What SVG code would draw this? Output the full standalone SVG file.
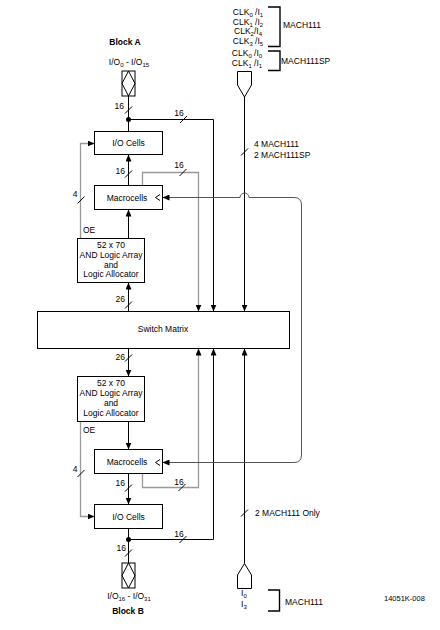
<svg xmlns="http://www.w3.org/2000/svg" width="440" height="630" viewBox="0 0 440 630">
<style>
text{font-family:"Liberation Sans",Arial,sans-serif;font-size:8.5px;fill:#000}
.b{font-weight:bold}
.m{text-anchor:middle}
.e{text-anchor:end}
.box{fill:#fff;stroke:#000;stroke-width:1}
.k{fill:none;stroke:#000;stroke-width:1}
.g{fill:none;stroke:#999;stroke-width:1.3}
.lp{fill:none;stroke:#555;stroke-width:1}
.sl{stroke:#000;stroke-width:1}
.br{fill:none;stroke:#000;stroke-width:1.4}
.s{font-size:6px}
</style>
<defs>
<marker id="ah" markerWidth="7" markerHeight="6" refX="6.5" refY="3" orient="auto" markerUnits="userSpaceOnUse">
<path d="M0,0 L7,3 L0,6 Z" fill="#000"/>
</marker>
</defs>

<g id="connectors">
<!-- Block A main column -->
<path class="k" d="M128.5 96 V131.5"/>
<path class="k" d="M128.5 119.5 H213.5 V311" marker-end="url(#ah)"/>
<path class="k" d="M128.5 185.5 V155" marker-end="url(#ah)"/>
<path class="k" d="M128.5 238.5 V210" marker-end="url(#ah)"/>
<path class="k" d="M128.5 311.5 V283" marker-end="url(#ah)"/>
<path class="g" d="M80.5 238.5 V143.5 H94" marker-end="url(#ah)"/>
<path class="g" d="M142.5 185.5 V172.5 H198.5 V311" marker-end="url(#ah)"/>
<!-- Block B main column -->
<path class="k" d="M128.5 348.5 V376" marker-end="url(#ah)"/>
<path class="k" d="M128.5 421.5 V449" marker-end="url(#ah)"/>
<path class="k" d="M128.5 473.5 V504" marker-end="url(#ah)"/>
<path class="k" d="M128.5 528.5 V563"/>
<path class="k" d="M128.5 539.5 H213.5 V349" marker-end="url(#ah)"/>
<path class="g" d="M80.5 421.5 V516.5 H94" marker-end="url(#ah)"/>
<path class="g" d="M142.5 473.5 V487.5 H198.5 V349" marker-end="url(#ah)"/>
<!-- clock lines -->
<path class="k" d="M244.5 97 V311" marker-end="url(#ah)"/>
<path class="k" d="M244.5 563.5 V349" marker-end="url(#ah)"/>
<!-- clock loop -->
<path class="lp" d="M301.5 330 V205 Q301.5 197.5 294 197.5 H249 A4.5 4.5 0 0 0 240 197.5 H163" marker-end="url(#ah)"/>
<path class="lp" d="M301.5 330 V455 Q301.5 462.5 294 462.5 H163" marker-end="url(#ah)"/>
<circle cx="128.5" cy="119.5" r="2.5" fill="#000"/>
<circle cx="128.5" cy="539.5" r="2.5" fill="#000"/>
<!-- bus slashes -->
<path class="sl" d="M125 113.5 L132 106.5 M180 123 L187 116 M125 177.5 L132 170.5 M179.5 176 L186.5 169 M77.5 203.5 L84.5 196.5 M125 308.5 L132 301.5 M125 361.5 L132 354.5 M77.5 477 L84.5 470 M125 491.5 L132 484.5 M178.5 491 L185.5 484 M179.5 543 L186.5 536 M125 556.5 L132 549.5 M241 155.5 L248 148.5 M241 516.5 L248 509.5"/>
</g>

<g id="labels">
<text x="124" y="109" class="e">16</text>
<text x="179" y="116" class="m">16</text>
<text x="125" y="173.5" class="e">16</text>
<text x="179" y="168" class="m">16</text>
<text x="75" y="197" class="m">4</text>
<text x="83" y="233">OE</text>
<text x="125" y="302" class="e">26</text>
<text x="125" y="359.5" class="e">26</text>
<text x="83" y="433">OE</text>
<text x="75" y="472" class="m">4</text>
<text x="125" y="486" class="e">16</text>
<text x="179" y="484.5" class="m">16</text>
<text x="179" y="537" class="m">16</text>
<text x="126" y="551" class="e">16</text>
<text x="254" y="146.5">4 MACH111</text>
<text x="254" y="158">2 MACH111SP</text>
<text x="255" y="516">2 MACH111 Only</text>
</g>

<g id="pin-a">
<text x="125" y="44.5" class="m b">Block A</text>
<text x="129" y="64.5" class="m">I/O<tspan class="s" dy="2">0</tspan><tspan dy="-2"> - I/O</tspan><tspan class="s" dy="2">15</tspan></text>
<rect x="122" y="71" width="13" height="25" class="k"/>
<path class="k" d="M128.5 71 L122 83.5 L128.5 96 L135 83.5 Z"/>
</g>

<g id="io-cells-a">
<rect x="94.5" y="131.5" width="68" height="23" class="box"/>
<text x="128.5" y="146" class="m">I/O Cells</text>
</g>

<g id="macrocells-a">
<rect x="94.5" y="185.5" width="68" height="24" class="box"/>
<text x="127" y="200.5" class="m">Macrocells</text>
<path class="k" d="M160 194.5 L155.5 197.5 L160 200.5"/>
</g>

<g id="and-array-a">
<rect x="77.5" y="238.5" width="67" height="44" class="box"/>
<text x="111" y="248" class="m">52 x 70</text>
<text x="111" y="258" class="m">AND Logic Array</text>
<text x="111" y="267.5" class="m">and</text>
<text x="111" y="277" class="m">Logic Allocator</text>
</g>

<g id="switch-matrix">
<rect x="37.5" y="311.5" width="252" height="37" class="box"/>
<text x="163" y="332" class="m">Switch Matrix</text>
</g>

<g id="and-array-b">
<rect x="77.5" y="376.5" width="67" height="45" class="box"/>
<text x="111" y="386" class="m">52 x 70</text>
<text x="111" y="396" class="m">AND Logic Array</text>
<text x="111" y="406" class="m">and</text>
<text x="111" y="416" class="m">Logic Allocator</text>
</g>

<g id="macrocells-b">
<rect x="94.5" y="449.5" width="68" height="24" class="box"/>
<text x="127" y="465" class="m">Macrocells</text>
<path class="k" d="M160 459.5 L155.5 462.5 L160 465.5"/>
</g>

<g id="io-cells-b">
<rect x="94.5" y="504.5" width="68" height="24" class="box"/>
<text x="128.5" y="519.5" class="m">I/O Cells</text>
</g>

<g id="pin-b">
<rect x="122" y="563" width="13" height="25" class="k"/>
<path class="k" d="M128.5 563 L122 575.5 L128.5 588 L135 575.5 Z"/>
<text x="129" y="598.5" class="m">I/O<tspan class="s" dy="2">16</tspan><tspan dy="-2"> - I/O</tspan><tspan class="s" dy="2">31</tspan></text>
<text x="128" y="614" class="m b">Block B</text>
</g>

<g id="clock-in-top">
<text x="248" y="15" class="m">CLK<tspan class="s" dy="2">0</tspan><tspan dy="-2"> /I</tspan><tspan class="s" dy="2">1</tspan></text>
<text x="248" y="24.5" class="m">CLK<tspan class="s" dy="2">1</tspan><tspan dy="-2"> /I</tspan><tspan class="s" dy="2">2</tspan></text>
<text x="248" y="34" class="m">CLK<tspan class="s" dy="2">2</tspan><tspan dy="-2">/I</tspan><tspan class="s" dy="2">4</tspan></text>
<text x="248" y="43.5" class="m">CLK<tspan class="s" dy="2">3</tspan><tspan dy="-2"> /I</tspan><tspan class="s" dy="2">5</tspan></text>
<path class="br" d="M268 7 H280 V46.5 H268"/>
<text x="283" y="28">MACH111</text>
<text x="247" y="56" class="m">CLK<tspan class="s" dy="2">0</tspan><tspan dy="-2"> /I</tspan><tspan class="s" dy="2">0</tspan></text>
<text x="247" y="65.5" class="m">CLK<tspan class="s" dy="2">1</tspan><tspan dy="-2"> /I</tspan><tspan class="s" dy="2">1</tspan></text>
<path class="br" d="M268 51 H280 V70.5 H268"/>
<text x="281" y="64">MACH111SP</text>
<path class="k" d="M237.5 71.5 H251.5 V85 L244.5 97 L237.5 85 Z"/>
</g>

<g id="clock-in-bottom">
<path class="k" d="M244.5 563.5 L251.5 575 V588.5 H237.5 V575 Z"/>
<text x="241" y="596">I<tspan class="s" dy="2">0</tspan></text>
<text x="241" y="607">I<tspan class="s" dy="2">3</tspan></text>
<path class="br" d="M268 590 H279.5 V611 H268"/>
<text x="285" y="604.5">MACH111</text>
</g>

<text x="384" y="601" style="font-size:7.5px">14051K-008</text>
</svg>
